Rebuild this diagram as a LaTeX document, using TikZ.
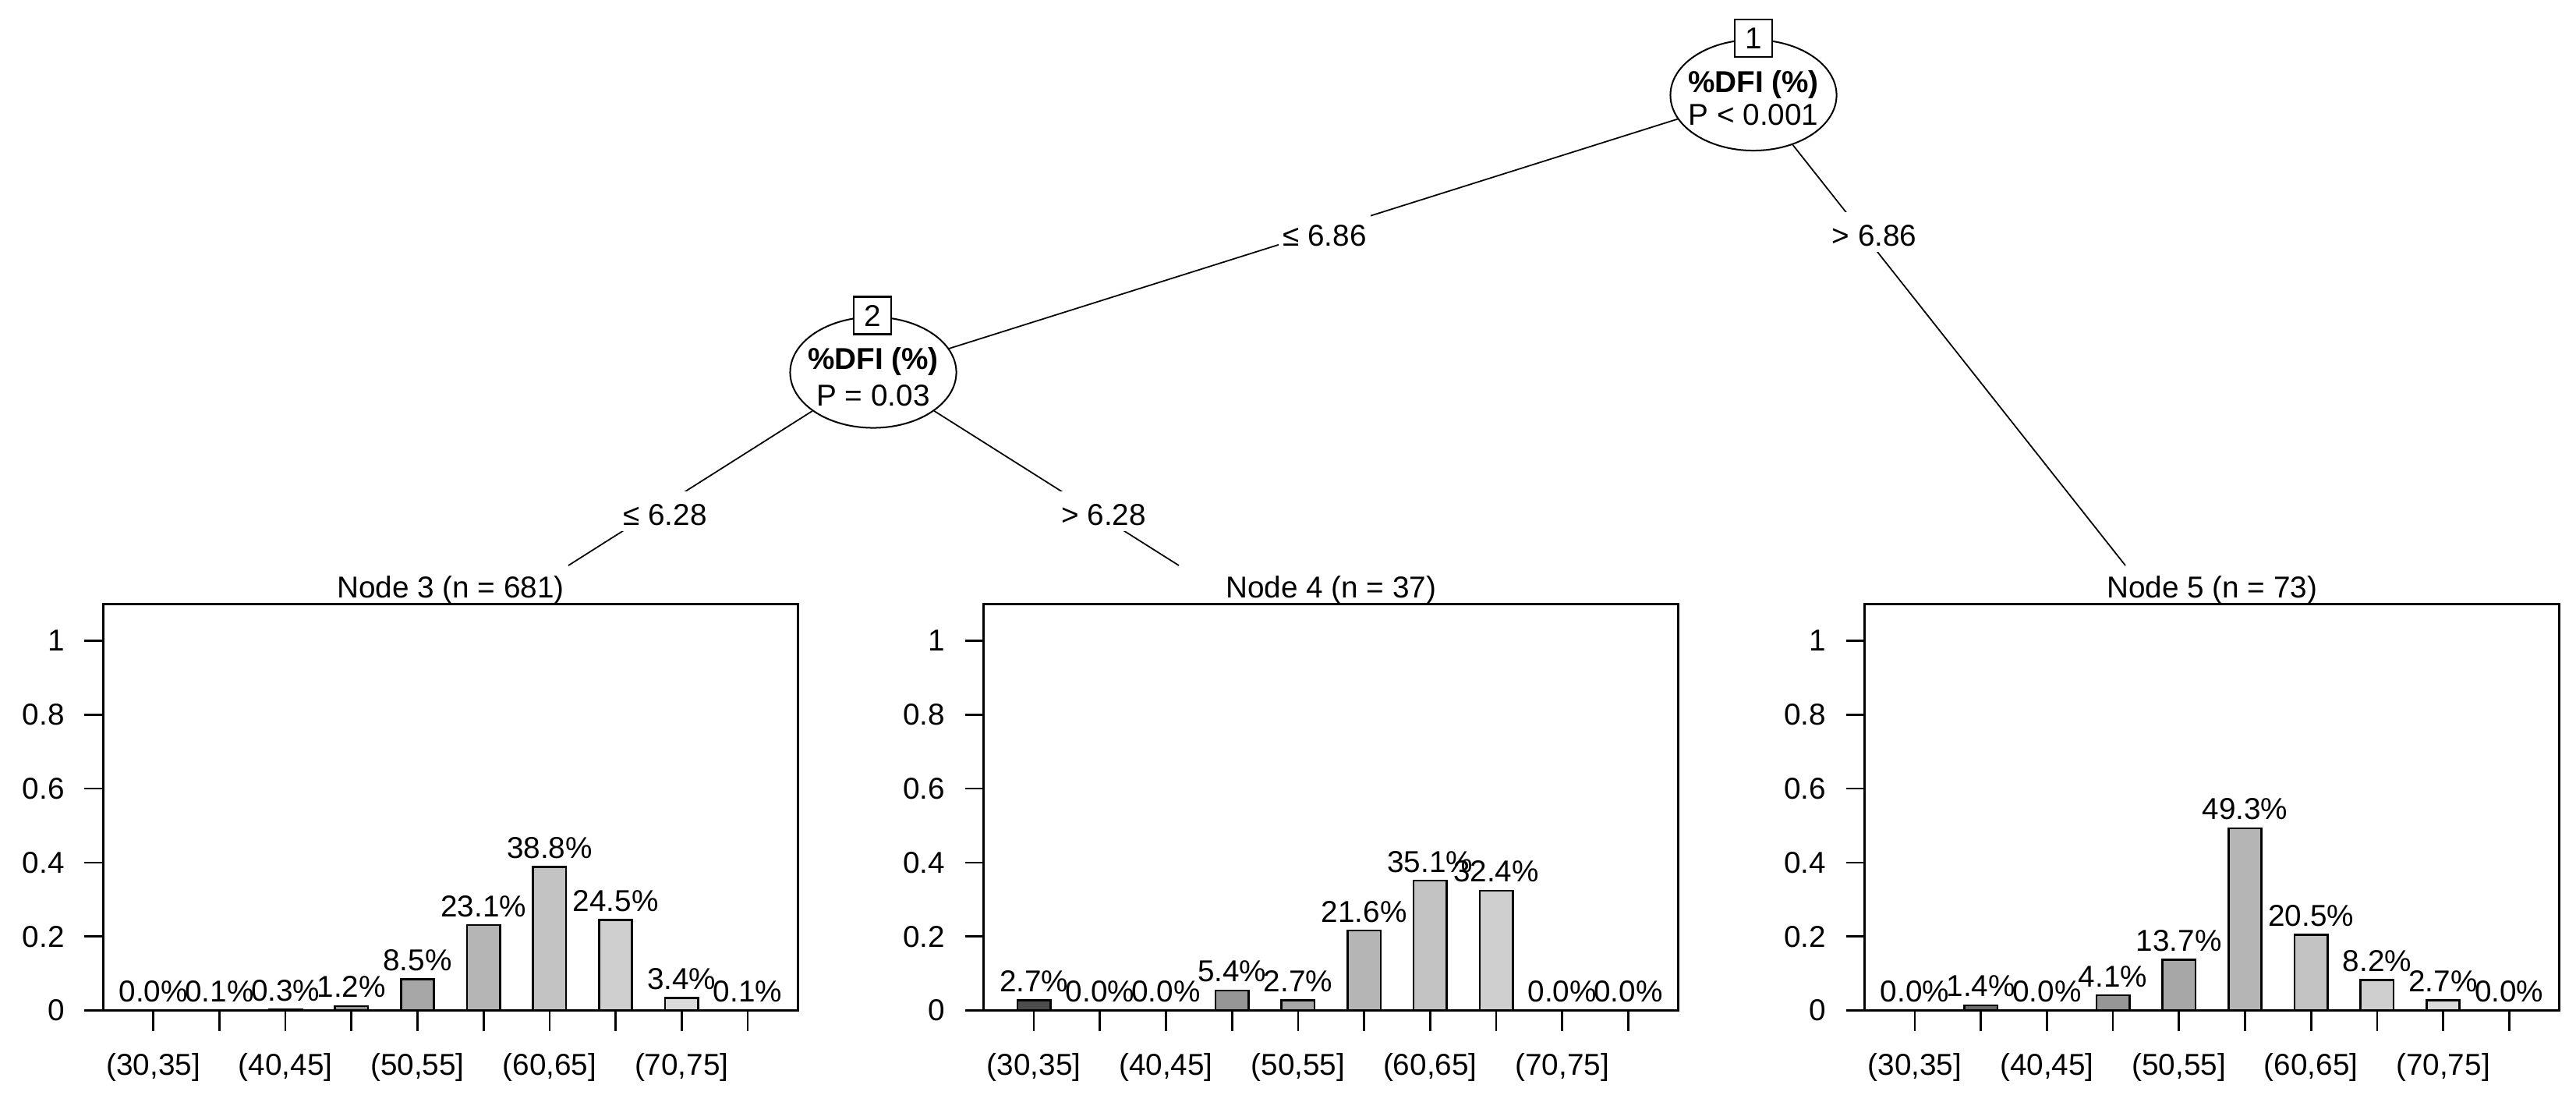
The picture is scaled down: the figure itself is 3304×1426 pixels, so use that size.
\documentclass[tikz,border=0pt]{standalone}
\usepackage{fontspec}
\setmainfont{Liberation Sans}
\usetikzlibrary{shapes.geometric}
\definecolor{g0}{RGB}{77,77,77}
\definecolor{g1}{RGB}{108,108,108}
\definecolor{g2}{RGB}{131,131,131}
\definecolor{g3}{RGB}{150,150,150}
\definecolor{g4}{RGB}{167,167,167}
\definecolor{g5}{RGB}{181,181,181}
\definecolor{g6}{RGB}{195,195,195}
\definecolor{g7}{RGB}{207,207,207}
\definecolor{g8}{RGB}{219,219,219}
\definecolor{g9}{RGB}{230,230,230}
\tikzset{
  txt/.style={inner sep=0pt, font=\fontsize{11pt}{13pt}\selectfont},
  pct/.style={txt, anchor=base},
  ylab/.style={txt, anchor=east},
  xlab/.style={txt, anchor=base},
  ttl/.style={txt, anchor=base},
  vname/.style={inner sep=0pt, anchor=base, font=\fontsize{11pt}{13pt}\selectfont\bfseries},
  pval/.style={txt, anchor=base},
  elabel/.style={anchor=base, fill=white, inner xsep=0.05cm, inner ysep=0.04cm,
    text height=0.39cm, text depth=0.04cm, font=\fontsize{11pt}{13pt}\selectfont},
  splitnode/.style={ellipse, draw, fill=white, line width=0.57pt, minimum width=2.13cm,
    minimum height=1.42cm, inner sep=0pt},
  idbox/.style={draw, fill=white, line width=0.65pt, minimum size=0.48cm, inner sep=0pt,
    font=\fontsize{11pt}{13pt}\selectfont},
  edgeline/.style={line width=0.5pt},
  barstyle/.style={draw, line width=0.75pt},
  axisstyle/.style={line width=0.77pt}
}
\newcommand\drawpanel[4]{%
  \pgfmathsetmacro\pR{#1+891}%
  \pgfmathsetmacro\pC{#1+445.5}%
  \foreach \val [count=\idx] in {#4} {%
    \pgfmathsetmacro\bx{#1+64.4+84.7*(\idx-1)}%
    \pgfmathsetmacro\bt{1295.5-4.74*\val}%
    \pgfmathtruncatemacro\kk{\idx-1}%
    \draw[barstyle, fill=g\kk] (\bx-21.2,1295.5) rectangle (\bx+21.2,\bt);%
    \draw[axisstyle] (\bx,1295.5) -- (\bx,1322);%
    \node[pct] (p#2-\idx) at (\bx,\bt-11) {\val\%};%
  }%
  \draw[axisstyle] (#1,774.5) rectangle (\pR,1295.5);%
  \foreach \tv [count=\jdx] in {0,0.2,0.4,0.6,0.8,1} {%
    \pgfmathsetmacro\ty{1295.5-474*\tv}%
    \draw[axisstyle] (#1-24,\ty) -- (#1,\ty);%
    \node[ylab] (y#2-\jdx) at (#1-49,\ty) {\tv};%
  }%
  \node[ttl] (t#2) at (\pC,766.5) {#3};%
  \node[xlab] (x#2-1) at (#1+64.4,1378) {(30,35]};%
  \node[xlab] (x#2-2) at (#1+233.8,1378) {(40,45]};%
  \node[xlab] (x#2-3) at (#1+403.2,1378) {(50,55]};%
  \node[xlab] (x#2-4) at (#1+572.6,1378) {(60,65]};%
  \node[xlab] (x#2-5) at (#1+742.0,1378) {(70,75]};%
}
\begin{document}
\begin{tikzpicture}[x=0.01cm,y=-0.01cm]
\useasboundingbox (0,0) rectangle (3304,1426);
\fill[white] (0,0) rectangle (3304,1426);
% tree
\node[splitnode] (n1) at (2249,122) {};
\node[splitnode] (n2) at (1120,477.5) {};
\coordinate (e3) at (729,725);
\coordinate (e4) at (1512,725);
\coordinate (e5) at (2726,725);
\draw[edgeline] (n1) -- (n2);
\draw[edgeline] (n1) -- (e5);
\draw[edgeline] (n2) -- (e3);
\draw[edgeline] (n2) -- (e4);
\node[idbox] (id1) at (2249,48.8) {1};
\node[idbox] (id2) at (1119.2,404.5) {2};
\node[vname] (v1) at (2249,118) {\%DFI (\%)};
\node[pval] (pv1) at (2249,160) {P < 0.001};
\node[vname] (v2) at (1120,473) {\%DFI (\%)};
\node[pval] (pv2) at (1120,520) {P = 0.03};
\node[elabel] (l12) at (1699,315) {≤ 6.86};
\node[elabel] (l15) at (2404,315) {> 6.86};
\node[elabel] (l23) at (853,673) {≤ 6.28};
\node[elabel] (l24) at (1415.7,673) {> 6.28};
% panels
\drawpanel{132.3}{3}{Node 3 (n = 681)}{0.0,0.1,0.3,1.2,8.5,23.1,38.8,24.5,3.4,0.1}
\drawpanel{1261.7}{4}{Node 4 (n = 37)}{2.7,0.0,0.0,5.4,2.7,21.6,35.1,32.4,0.0,0.0}
\drawpanel{2391.5}{5}{Node 5 (n = 73)}{0.0,1.4,0.0,4.1,13.7,49.3,20.5,8.2,2.7,0.0}
\end{tikzpicture}
\end{document}
